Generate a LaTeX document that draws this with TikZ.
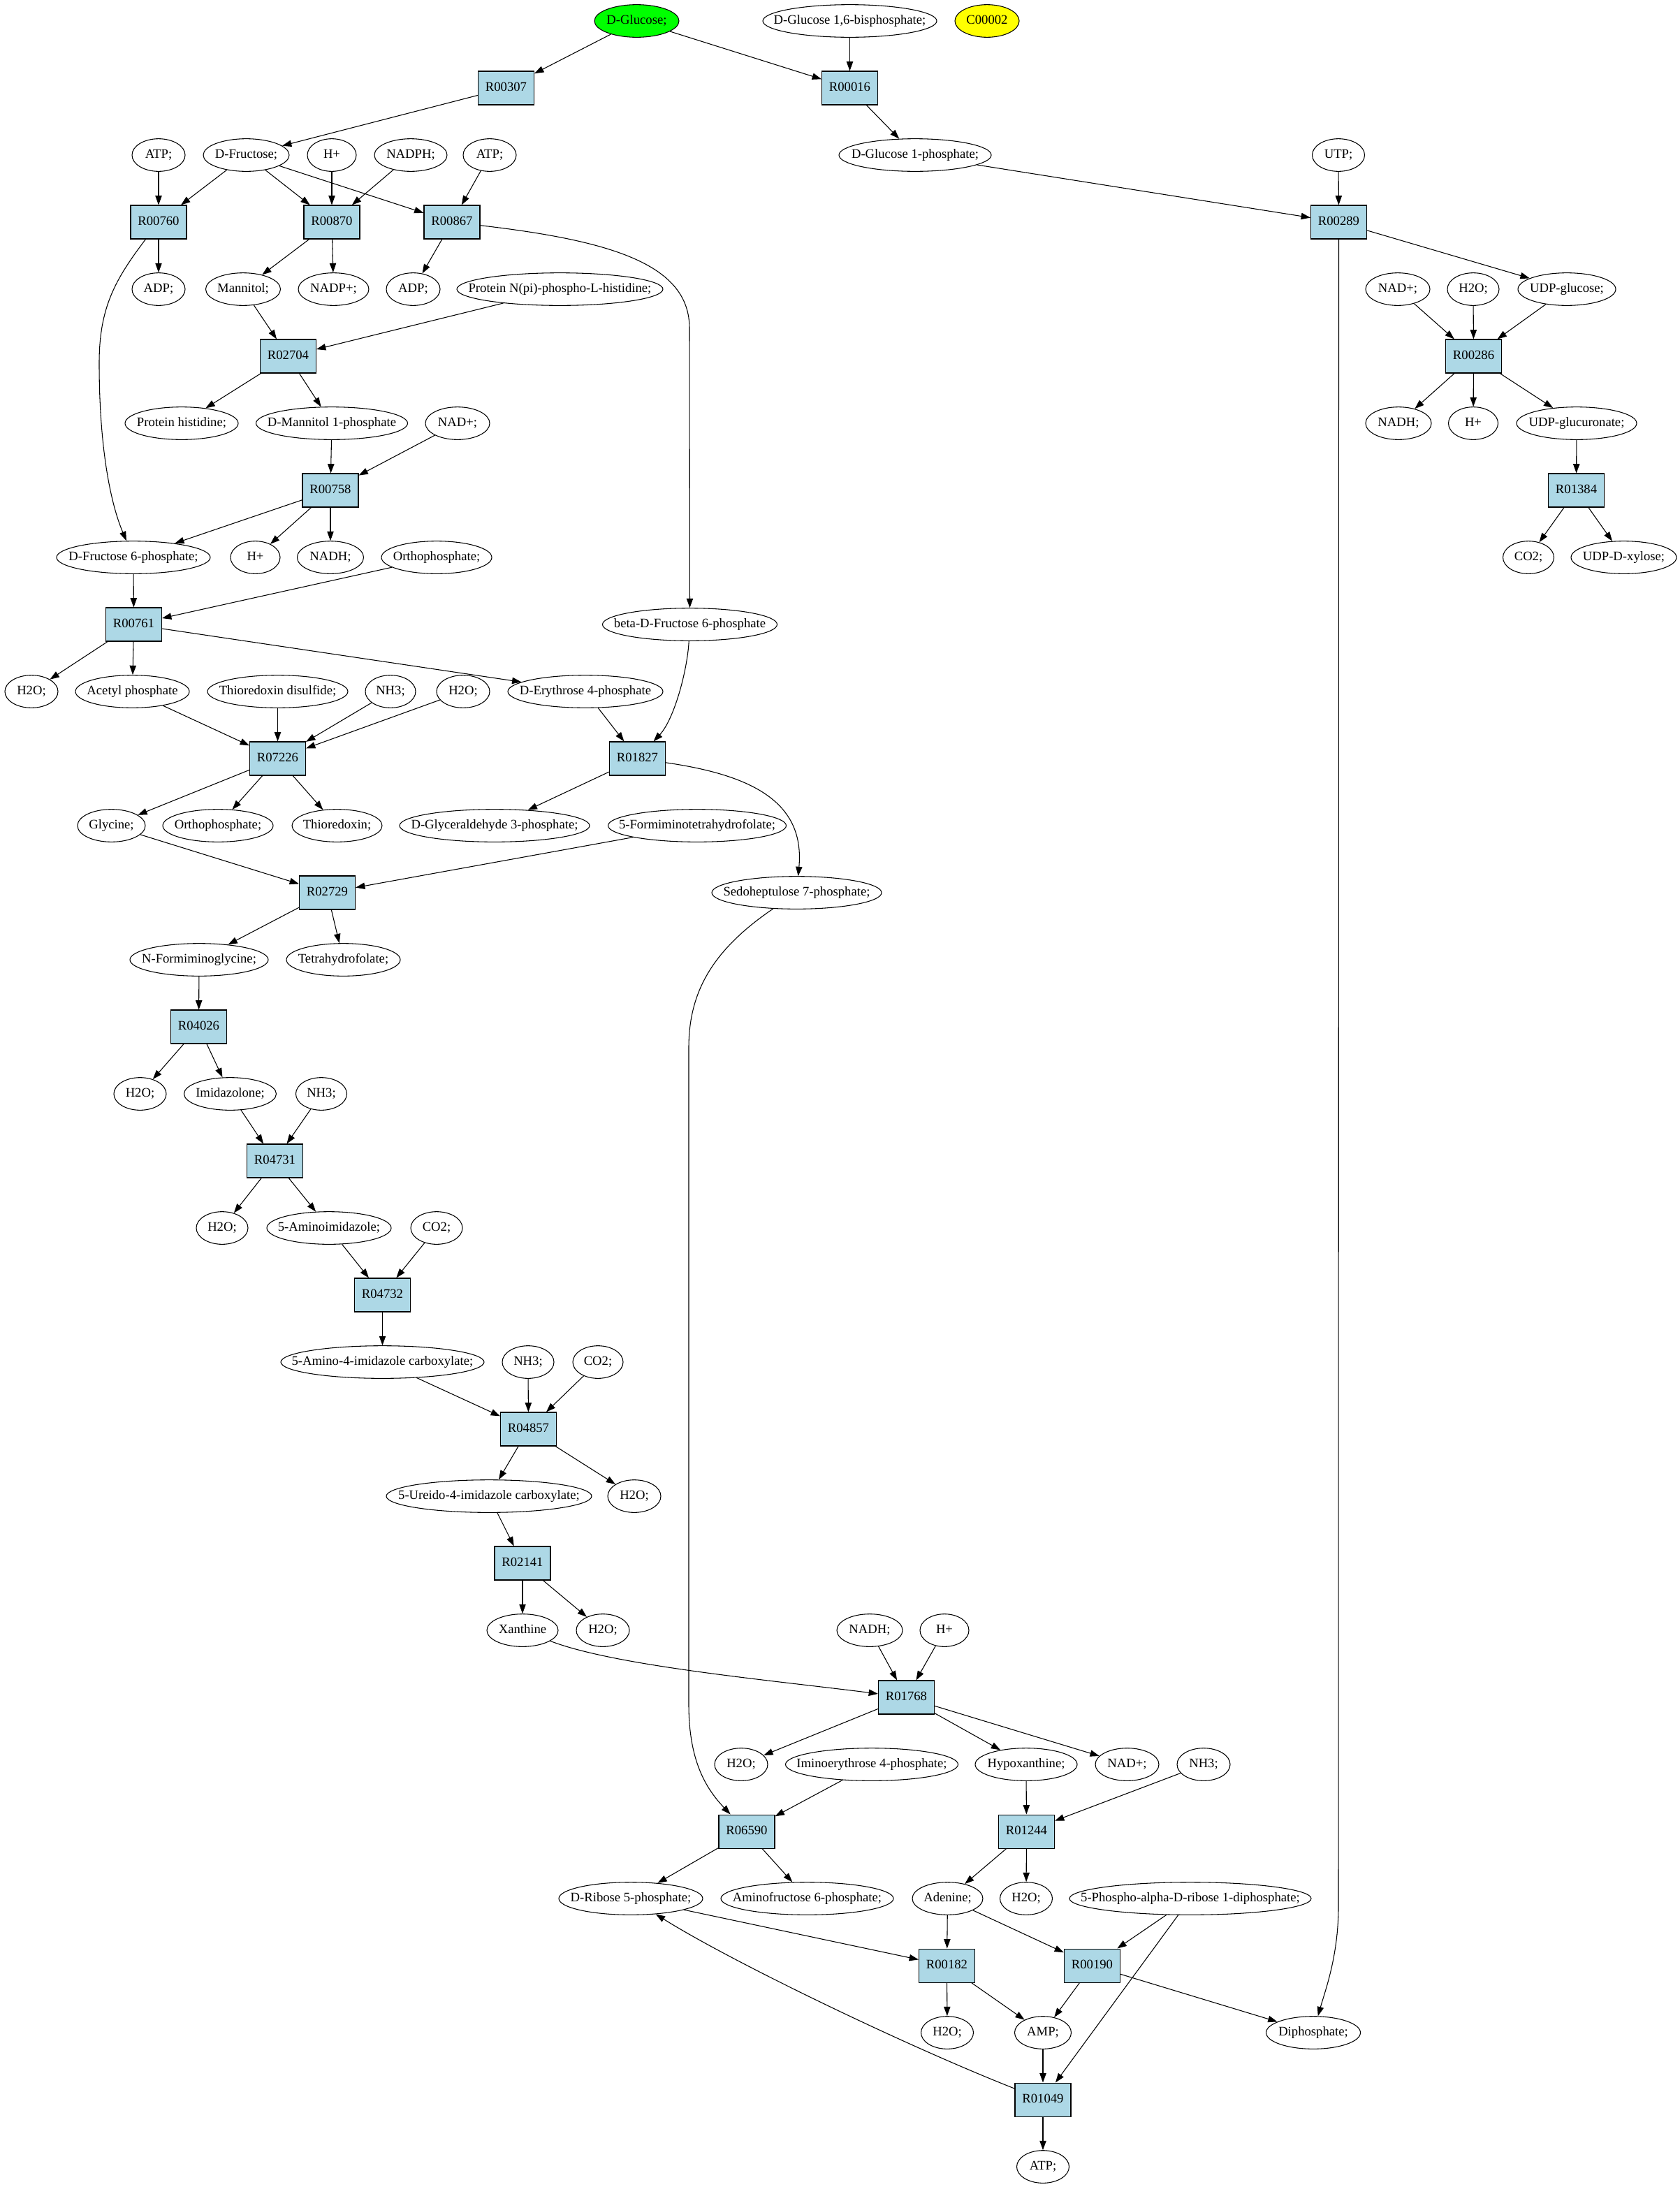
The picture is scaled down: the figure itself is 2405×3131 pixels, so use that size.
\documentclass[tikz,border=0pt]{standalone}
\usepackage{fontspec}
\setmainfont{Liberation Serif}
\usetikzlibrary{arrows.meta,shapes.geometric}
\definecolor{rxblue}{HTML}{ADD8E6}
\definecolor{glcgreen}{HTML}{00FF00}
\definecolor{cyellow}{HTML}{FFFF00}
\begin{document}
\begin{tikzpicture}[x=0.75pt,y=-0.75pt,
  lbl/.style={font=\fontsize{14}{16}\selectfont, inner sep=0pt, text height=9.5pt, text depth=3pt,
    execute at begin node={\hbox to 0pt\bgroup\hss}, execute at end node={\hss\egroup}},
  cpd/.style={lbl, ellipse, draw, line width=0.8pt, minimum height=35pt, minimum width={0.75pt*#1}},
  rx/.style={lbl, rectangle, draw, fill=rxblue, line width=0.8pt, minimum height=36pt, minimum width=60pt},
  e/.style={draw, line width=0.8pt, -{Triangle[length=10pt,width=7pt]}}]
\path[fill=white,use as bounding box] (0,0) rectangle (2405,3131);
% row 0
\node[cpd=121, fill=glcgreen] (glc) at (911.5,30) {D-Glucose;};
\node[cpd=249] (g16bp) at (1216.5,30) {D-Glucose 1,6-bisphosphate;};
\node[cpd=92, fill=cyellow] (c2) at (1413,30) {C00002};
% row 1
\node[rx] (r00307) at (724.5,126) {R00307};
\node[rx] (r00016) at (1216.5,126) {R00016};
% row 2
\node[cpd=76] (atp1) at (227,222) {ATP;};
\node[cpd=123] (fru) at (352.5,222) {D-Fructose;};
\node[cpd=70] (hp1) at (475,222) {H+};
\node[cpd=104] (nadph) at (588,222) {NADPH;};
\node[cpd=76] (atp2) at (701,222) {ATP;};
\node[cpd=218] (g1p) at (1310,222) {D-Glucose 1-phosphate;};
\node[cpd=75] (utp) at (1916,222) {UTP;};
% row 3
\node[rx] (r00760) at (227,318) {R00760};
\node[rx] (r00870) at (475,318) {R00870};
\node[rx] (r00867) at (647,318) {R00867};
\node[rx] (r00289) at (1916.5,318) {R00289};
% row 4
\node[cpd=76] (adp1) at (227,414) {ADP;};
\node[cpd=107] (mannitol) at (348,414) {Mannitol;};
\node[cpd=101] (nadpp) at (477.5,414) {NADP+;};
\node[cpd=77] (adp2) at (591.5,414) {ADP;};
\node[cpd=295] (pnh) at (801.5,414) {Protein N(pi)-phospho-L-histidine;};
\node[cpd=92] (nadp1) at (2001,414) {NAD+;};
\node[cpd=74] (h2o1) at (2109,414) {H2O;};
\node[cpd=140] (udpg) at (2243,414) {UDP-glucose;};
% row 5
\node[rx] (r02704) at (412.5,510) {R02704};
\node[rx] (r00286) at (2109.5,510) {R00286};
% row 6
\node[cpd=162] (prh) at (260,606) {Protein histidine;};
\node[cpd=217] (m1p) at (475,606) {D-Mannitol 1-phosphate};
\node[cpd=92] (nadp2) at (655,606) {NAD+;};
\node[cpd=94] (nadh1) at (2002,606) {NADH;};
\node[cpd=71] (hp2) at (2109,606) {H+};
\node[cpd=172] (udpgu) at (2257,606) {UDP-glucuronate;};
% row 7
\node[rx] (r00758) at (473,702) {R00758};
\node[rx] (r01384) at (2256.5,702) {R01384};
% row 8
\node[cpd=220] (f6p) at (191,798) {D-Fructose 6-phosphate;};
\node[cpd=71] (hp3) at (365.5,798) {H+};
\node[cpd=95] (nadh2) at (473,798) {NADH;};
\node[cpd=158] (pi1) at (625,798) {Orthophosphate;};
\node[cpd=73] (co2a) at (2188,798) {CO2;};
\node[cpd=151] (udpx) at (2324.5,798) {UDP-D-xylose;};
% row 9
\node[rx] (r00761) at (191.5,894) {R00761};
\node[cpd=250] (bf6p) at (987.5,894) {beta-D-Fructose 6-phosphate};
% row 10
\node[cpd=76] (h2o2) at (45,990) {H2O;};
\node[cpd=163] (acp) at (189.5,990) {Acetyl phosphate};
\node[cpd=201] (trxss) at (397.5,990) {Thioredoxin disulfide;};
\node[cpd=72] (nh3a) at (559,990) {NH3;};
\node[cpd=76] (h2o3) at (663,990) {H2O;};
\node[cpd=222] (e4p) at (838,990) {D-Erythrose 4-phosphate};
% row 11
\node[rx] (r07226) at (397.5,1086) {R07226};
\node[rx] (r01827) at (912.5,1086) {R01827};
% row 12
\node[cpd=97] (gly) at (159.5,1182) {Glycine;};
\node[cpd=158] (pi2) at (312,1182) {Orthophosphate;};
\node[cpd=129] (trx) at (482.5,1182) {Thioredoxin;};
\node[cpd=272] (gap) at (708,1182) {D-Glyceraldehyde 3-phosphate;};
\node[cpd=255] (fthf) at (998,1182) {5-Formiminotetrahydrofolate;};
% row 13
\node[rx] (r02729) at (468.5,1278) {R02729};
\node[cpd=243] (s7p) at (1140.5,1278) {Sedoheptulose 7-phosphate;};
% row 14
\node[cpd=198] (nfg) at (285,1374) {N-Formiminoglycine;};
\node[cpd=163] (thf) at (491.5,1374) {Tetrahydrofolate;};
% row 15
\node[rx] (r04026) at (284.5,1470) {R04026};
% row 16
\node[cpd=75] (h2o4) at (200.5,1566) {H2O;};
\node[cpd=132] (imz) at (329.5,1566) {Imidazolone;};
\node[cpd=73] (nh3b) at (460,1566) {NH3;};
% row 17
\node[rx] (r04731) at (393.5,1662) {R04731};
% row 18
\node[cpd=74] (h2o5) at (318,1758) {H2O;};
\node[cpd=178] (aimz) at (471,1758) {5-Aminoimidazole;};
\node[cpd=74] (co2b) at (625,1758) {CO2;};
% row 19
\node[rx] (r04732) at (547.5,1854) {R04732};
% row 20
\node[cpd=291] (aic) at (547.5,1950) {5-Amino-4-imidazole carboxylate;};
\node[cpd=74] (nh3c) at (756,1950) {NH3;};
\node[cpd=72] (co2c) at (856,1950) {CO2;};
% row 21
\node[rx] (r04857) at (756.5,2046) {R04857};
% row 22
\node[cpd=294] (uic) at (700,2142) {5-Ureido-4-imidazole carboxylate;};
\node[cpd=76] (h2o6) at (908,2142) {H2O;};
% row 23
\node[rx] (r02141) at (748,2238) {R02141};
% row 24
\node[cpd=102] (xan) at (748,2334) {Xanthine};
\node[cpd=76] (h2o7) at (863,2334) {H2O;};
\node[cpd=94] (nadh3) at (1245,2334) {NADH;};
\node[cpd=70] (hp4) at (1352,2334) {H+};
% row 25
\node[rx] (r01768) at (1297.5,2430) {R01768};
% row 26
\node[cpd=76] (h2o8) at (1061,2526) {H2O;};
\node[cpd=247] (ie4p) at (1248,2526) {Iminoerythrose 4-phosphate;};
\node[cpd=146] (hyp) at (1469,2526) {Hypoxanthine;};
\node[cpd=91] (nadp3) at (1613.5,2526) {NAD+;};
\node[cpd=76] (nh3d) at (1723,2526) {NH3;};
% row 27
\node[rx] (r06590) at (1069,2622) {R06590};
\node[rx] (r01244) at (1469.5,2622) {R01244};
% row 28
\node[cpd=206] (r5p) at (903,2718) {D-Ribose 5-phosphate;};
\node[cpd=247] (af6p) at (1155.5,2718) {Aminofructose 6-phosphate;};
\node[cpd=101] (ade) at (1356.5,2718) {Adenine;};
\node[cpd=75] (h2o9) at (1469,2718) {H2O;};
\node[cpd=346] (prpp) at (1704,2718) {5-Phospho-alpha-D-ribose 1-diphosphate;};
% row 29
\node[rx] (r00182) at (1355.5,2814) {R00182};
\node[rx] (r00190) at (1563.5,2814) {R00190};
% row 30
\node[cpd=75] (h2o10) at (1356,2910) {H2O;};
\node[cpd=81] (amp) at (1493,2910) {AMP;};
\node[cpd=135] (ppi) at (1880,2910) {Diphosphate;};
% row 31
\node[rx] (r01049) at (1493,3006) {R01049};
% row 32
\node[cpd=75] (atp3) at (1493,3102) {ATP;};

% edges
\draw[e] (glc) -- (r00307);
\draw[e] (glc) -- (r00016);
\draw[e] (g16bp) -- (r00016);
\draw[e] (r00307) -- (fru);
\draw[e] (r00016) -- (g1p);
\draw[e] (atp1) -- (r00760);
\draw[e] (fru) -- (r00760);
\draw[e] (fru) -- (r00870);
\draw[e] (fru) -- (r00867);
\draw[e] (hp1) -- (r00870);
\draw[e] (nadph) -- (r00870);
\draw[e] (atp2) -- (r00867);
\draw[e] (g1p) -- (r00289);
\draw[e] (utp) -- (r00289);
\draw[e] (r00760) -- (adp1);
\draw[e] (r00760) .. controls (165,400) and (142,440) .. (142,520) .. controls (142,640) and (158,720) .. (f6p);
\draw[e] (r00870) -- (mannitol);
\draw[e] (r00870) -- (nadpp);
\draw[e] (r00867) -- (adp2);
\draw[e] (r00867) .. controls (880,345) and (987,380) .. (987,470) -- (bf6p);
\draw[e] (r00289) -- (udpg);
\draw[e] (r00289) -- (1916,2730) .. controls (1916,2800) and (1897,2850) .. (ppi);
\draw[e] (mannitol) -- (r02704);
\draw[e] (pnh) -- (r02704);
\draw[e] (nadp1) -- (r00286);
\draw[e] (h2o1) -- (r00286);
\draw[e] (udpg) -- (r00286);
\draw[e] (r02704) -- (prh);
\draw[e] (r02704) -- (m1p);
\draw[e] (r00286) -- (nadh1);
\draw[e] (r00286) -- (hp2);
\draw[e] (r00286) -- (udpgu);
\draw[e] (m1p) -- (r00758);
\draw[e] (nadp2) -- (r00758);
\draw[e] (udpgu) -- (r01384);
\draw[e] (r00758) -- (f6p);
\draw[e] (r00758) -- (hp3);
\draw[e] (r00758) -- (nadh2);
\draw[e] (r01384) -- (co2a);
\draw[e] (r01384) -- (udpx);
\draw[e] (f6p) -- (r00761);
\draw[e] (pi1) -- (r00761);
\draw[e] (r00761) -- (h2o2);
\draw[e] (r00761) -- (acp);
\draw[e] (r00761) -- (e4p);
\draw[e] (bf6p) .. controls (984,960) and (965,1030) .. (r01827);
\draw[e] (e4p) -- (r01827);
\draw[e] (acp) -- (r07226);
\draw[e] (trxss) -- (r07226);
\draw[e] (nh3a) -- (r07226);
\draw[e] (h2o3) -- (r07226);
\draw[e] (r07226) -- (gly);
\draw[e] (r07226) -- (pi2);
\draw[e] (r07226) -- (trx);
\draw[e] (r01827) -- (gap);
\draw[e] (r01827) .. controls (1080,1110) and (1152,1150) .. (s7p);
\draw[e] (gly) -- (r02729);
\draw[e] (fthf) -- (r02729);
\draw[e] (r02729) -- (nfg);
\draw[e] (r02729) -- (thf);
\draw[e] (s7p) .. controls (1020,1360) and (986,1420) .. (986,1500) -- (986,2440) .. controls (986,2520) and (1010,2560) .. (r06590);
\draw[e] (nfg) -- (r04026);
\draw[e] (r04026) -- (h2o4);
\draw[e] (r04026) -- (imz);
\draw[e] (imz) -- (r04731);
\draw[e] (nh3b) -- (r04731);
\draw[e] (r04731) -- (h2o5);
\draw[e] (r04731) -- (aimz);
\draw[e] (aimz) -- (r04732);
\draw[e] (co2b) -- (r04732);
\draw[e] (r04732) -- (aic);
\draw[e] (aic) -- (r04857);
\draw[e] (nh3c) -- (r04857);
\draw[e] (co2c) -- (r04857);
\draw[e] (r04857) -- (uic);
\draw[e] (r04857) -- (h2o6);
\draw[e] (uic) -- (r02141);
\draw[e] (r02141) -- (xan);
\draw[e] (r02141) -- (h2o7);
\draw[e] (xan) .. controls (880,2385) and (1100,2405) .. (r01768);
\draw[e] (nadh3) -- (r01768);
\draw[e] (hp4) -- (r01768);
\draw[e] (r01768) -- (h2o8);
\draw[e] (r01768) -- (hyp);
\draw[e] (r01768) -- (nadp3);
\draw[e] (ie4p) -- (r06590);
\draw[e] (hyp) -- (r01244);
\draw[e] (nh3d) -- (r01244);
\draw[e] (r06590) -- (r5p);
\draw[e] (r06590) -- (af6p);
\draw[e] (r01244) -- (ade);
\draw[e] (r01244) -- (h2o9);
\draw[e] (r5p) -- (r00182);
\draw[e] (ade) -- (r00182);
\draw[e] (ade) -- (r00190);
\draw[e] (prpp) -- (r00190);
\draw[e] (prpp) -- (r01049);
\draw[e] (r00182) -- (h2o10);
\draw[e] (r00182) -- (amp);
\draw[e] (r00190) -- (amp);
\draw[e] (r00190) -- (ppi);
\draw[e] (amp) -- (r01049);
\draw[e] (r01049) -- (atp3);
\draw[e] (r01049) .. controls (1300,2930) and (1050,2810) .. (r5p);
\end{tikzpicture}
\end{document}
